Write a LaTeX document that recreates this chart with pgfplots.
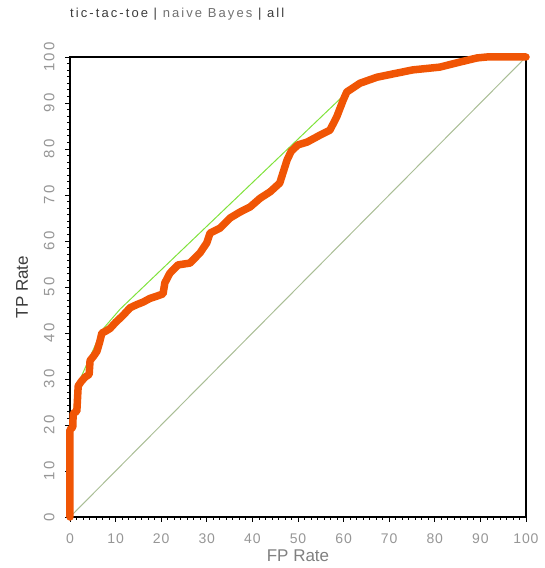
\documentclass[border=0pt]{standalone}
\usepackage{pgfplots}
\pgfplotsset{compat=1.18}
\usepackage{fontspec}
\setmainfont{Liberation Sans}
\newfontfamily\titlefont[LetterSpace=16]{Liberation Sans}
\newfontfamily\tickfont[LetterSpace=6]{Liberation Sans}
\newfontfamily\yfont[LetterSpace=14]{Liberation Sans}

\definecolor{roc}{RGB}{240,85,5}
\definecolor{hull}{RGB}{128,226,60}
\definecolor{chance}{RGB}{170,190,150}
\definecolor{ticklab}{RGB}{150,150,150}
\definecolor{labdark}{RGB}{60,60,60}

% ROC curve of naive Bayes on tic-tac-toe (FP rate %, TP rate %)
\pgfplotstableread{
fp tp
0 0
0 19
0.6 19.5
0.7 22.5
1.5 23
1.8 28.5
2.5 29.5
3.3 30.4
4.2 31
4.4 34
5.2 35
5.9 36
6.5 38
7 40
8 40.5
8.8 41
10 42.3
11.6 43.8
13.2 45.5
14.7 46.2
16 46.7
17.5 47.5
19 48
20.4 48.5
20.8 50.9
21.9 53
23.7 54.8
26.3 55.2
28.5 57.4
30 59.6
30.7 61.7
32.9 62.8
35.1 65
37.3 66.3
39.5 67.4
41.7 69.3
43.9 70.7
46 72.6
46.7 74.8
47.6 77.6
48.5 79.5
50 80.9
52 81.5
54.8 83
57 84.1
58.5 87
59.9 90.6
60.7 92.4
63.6 94.3
67.3 95.6
71.7 96.5
75.2 97.2
81.1 97.8
85.5 98.9
89.3 99.8
91.4 100
100 100
}\roctable

% convex hull of the curve
\pgfplotstableread{
fp tp
0 19
0.7 22.7
1.8 29
7 40.6
11 45.2
60.6 92.2
}\hulltable

\begin{document}
\begin{tikzpicture}
\useasboundingbox (-70pt,-51pt) rectangle (475pt,517pt);
\begin{axis}[
  scale only axis,
  width=456pt, height=460pt,
  xmin=0, xmax=100, ymin=0, ymax=100,
  xtick distance=10, ytick distance=10,
  minor tick num=6,
  tick pos=left,
  tick align=outside,
  major tick length=5pt,
  minor tick length=2.5pt,
  every tick/.style={black, line width=0.8pt},
  axis line style={black, line width=1.2pt},
  /pgf/number format/assume math mode=true,
  ticklabel style={text=ticklab},
  xticklabel style={font=\tickfont\fontsize{14}{16}\selectfont},
  xticklabel shift=8pt,
  yticklabel style={font=\yfont\fontsize{15}{17}\selectfont, rotate=90, anchor=south},
  yticklabel shift=7pt,
  xlabel={FP Rate},
  ylabel={TP Rate},
  xlabel style={font=\fontsize{17}{19}\selectfont, text=ticklab!85!black,
    at={(axis description cs:0.5,-0.085)}, anchor=center},
  ylabel style={font=\fontsize{17}{19}\selectfont, text=labdark,
    at={(axis description cs:-0.105,0.5)}, anchor=center},
  title={\textcolor{labdark}{tic-tac-toe |} \textcolor{ticklab!75!black}{naive Bayes} \textcolor{labdark}{| all}},
  title style={font=\titlefont\fontsize{13}{15}\selectfont, at={(rel axis cs:0,1)}, anchor=base west, yshift=33pt, inner sep=0pt},
  clip=false,
]
\addplot[chance, line width=1pt] coordinates {(0,0) (100,100)};
\addplot[hull, line width=1pt] table[x=fp, y=tp] {\hulltable};
\addplot[roc, line width=7.5pt, line join=round, line cap=round] table[x=fp, y=tp] {\roctable};
\end{axis}
\end{tikzpicture}
\end{document}
